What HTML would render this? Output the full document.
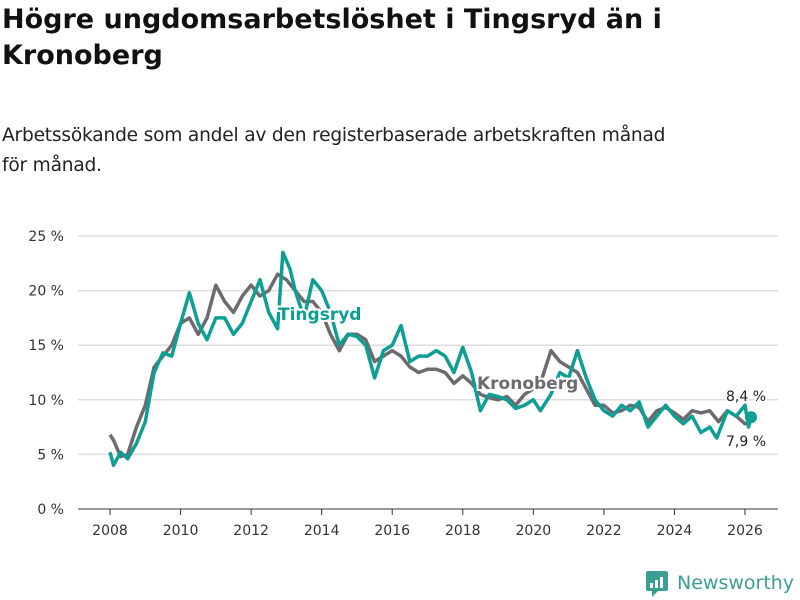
<!DOCTYPE html>
<html><head><meta charset="utf-8"><style>
body{margin:0;width:800px;height:600px;background:#fff;font-family:"DejaVu Sans","Liberation Sans",sans-serif;overflow:hidden;position:relative}
h1{position:absolute;left:2px;top:2px;margin:0;font-size:27px;line-height:36px;font-weight:bold;color:#111;width:790px}
.sub{position:absolute;left:2px;top:121px;font-size:18.6px;letter-spacing:-0.2px;line-height:30px;color:#222;width:798px}
svg{position:absolute;left:0;top:0}
</style></head><body>
<h1>Högre ungdomsarbetslöshet i Tingsryd än i Kronoberg</h1>
<div class="sub">Arbetssökande som andel av den registerbaserade arbetskraften månad<br>för månad.</div>
<svg id="c" width="800" height="600"></svg>
<script>
const yTicks=[0,5,10,15,20,25];
const xTicks=[2008,2010,2012,2014,2016,2018,2020,2022,2024,2026];
const kronDates=[2008,2008.1,2008.3,2008.5,2008.75,2009,2009.25,2009.5,2009.75,2010,2010.25,2010.5,2010.75,2011,2011.25,2011.5,2011.75,2012,2012.25,2012.5,2012.75,2013,2013.25,2013.5,2013.75,2014,2014.25,2014.5,2014.75,2015,2015.25,2015.5,2015.75,2016,2016.25,2016.5,2016.75,2017,2017.25,2017.5,2017.75,2018,2018.25,2018.5,2018.75,2019,2019.25,2019.5,2019.75,2020,2020.25,2020.5,2020.75,2021,2021.25,2021.5,2021.75,2022,2022.25,2022.5,2022.75,2023,2023.25,2023.5,2023.75,2024,2024.25,2024.5,2024.75,2025,2025.25,2025.5,2025.75,2026,2026.17];
const kronValues=[6.8,6.3,4.8,5.0,7.5,9.5,13,14,15,17,17.5,16,17.5,20.5,19,18,19.5,20.5,19.5,20,21.5,21,20,19,19,18,16,14.5,16,16,15.5,13.5,14,14.5,14,13,12.5,12.8,12.8,12.5,11.5,12.2,11.5,10.5,10.2,10,10.3,9.5,10.5,11,12,14.5,13.5,13,12.5,11,9.5,9.5,8.8,9,9.5,9.3,8,9,9.3,8.8,8.2,9,8.8,9,8,9,8.5,7.8,7.9];
const tingDates=[2008,2008.1,2008.3,2008.5,2008.75,2009,2009.25,2009.5,2009.75,2010,2010.25,2010.5,2010.75,2011,2011.25,2011.5,2011.75,2012,2012.25,2012.5,2012.75,2012.9,2013.1,2013.25,2013.5,2013.75,2014,2014.25,2014.5,2014.75,2015,2015.25,2015.5,2015.75,2016,2016.25,2016.5,2016.75,2017,2017.25,2017.5,2017.75,2018,2018.25,2018.5,2018.75,2019,2019.25,2019.5,2019.75,2020,2020.2,2020.5,2020.75,2021,2021.25,2021.5,2021.75,2022,2022.25,2022.5,2022.75,2023,2023.25,2023.5,2023.75,2024,2024.25,2024.5,2024.75,2025,2025.2,2025.5,2025.75,2026,2026.1,2026.17];
const tingValues=[5.2,4.0,5.2,4.6,6,8,12.5,14.3,14,17,19.8,17,15.5,17.5,17.5,16,17,19,21,18,16.5,23.5,22,20,17.5,21,20,18,15,16,15.8,15,12,14.5,15,16.8,13.5,14,14,14.5,14,12.5,14.8,12.5,9,10.5,10.3,10,9.2,9.5,10,9,10.5,12.5,12,14.5,12,10,9,8.5,9.5,9,9.8,7.5,8.5,9.5,8.5,7.8,8.5,7,7.5,6.5,9,8.5,9.5,7.5,8.4];
const X=t=>110+(t-2008)*(745-110)/18;
const Y=v=>509-v*10.92;
const NS="http://www.w3.org/2000/svg";
const svg=document.getElementById('c');
function mk(tag,attrs,parent){const e=document.createElementNS(NS,tag);for(const k in attrs)e.setAttribute(k,attrs[k]);(parent||svg).appendChild(e);return e;}
yTicks.forEach(v=>{
 const l=mk('line',{x1:78,x2:778,y1:Y(v),y2:Y(v),stroke:v===0?'#333':'#ddd','stroke-width':v===0?1:1.5});
 
 
 const t=mk('text',{x:64,y:Y(v)+5,'text-anchor':'end','font-size':14,fill:'#333'});
 t.textContent=v+' %';
 
 
});
xTicks.forEach(v=>{
 const l=mk('line',{x1:X(v),x2:X(v),y1:509,y2:515,stroke:'#333'});
 
 
 const t=mk('text',{x:X(v),y:535,'text-anchor':'middle','font-size':14,fill:'#333'});
 t.textContent=v;
 
 
});
function line(d,v,col,name){
 const p=mk('polyline',{points:d.map((t,i)=>X(t)+','+Y(v[i])).join(' '),fill:'none',stroke:col,'stroke-width':3.5,'stroke-linejoin':'round'});
 
 
}
line(kronDates,kronValues,'#6d6b70','kronoberg-line');
line(tingDates,tingValues,'#0d9e94','tingsryd-line');
function lab(x,y,txt,col,name,size,w,anchor){
 const t=mk('text',{x:x,y:y,'font-size':size,'font-weight':w,fill:col,stroke:'#fff','stroke-width':4,'paint-order':'stroke','text-anchor':anchor||'start'});
 t.textContent=txt;
 
 
}
lab(278,320,'Tingsryd','#0d9e94','tingsryd-label',17,'bold');
lab(477,389,'Kronoberg','#6d6b70','kronoberg-label',17,'bold');
const dot=mk('circle',{cx:X(2026.17),cy:Y(8.4),r:6,fill:'#0d9e94'});


lab(746,401,'8,4 %','#222','tingsryd-end-value',14,'normal','middle');
lab(746,446,'7,9 %','#222','kronoberg-end-value',14,'normal','middle');
const g=mk('g',{});


mk('rect',{x:646,y:571,width:22,height:20,rx:2,fill:'#3a9e95'},g);
mk('polygon',{points:'652,591 658,591 652,597',fill:'#3a9e95'},g);
mk('rect',{x:650,y:583,width:3,height:5,fill:'#fff'},g);
mk('rect',{x:655,y:580,width:3,height:8,fill:'#fff'},g);
mk('rect',{x:660,y:577,width:3,height:11,fill:'#fff'},g);
const lt=mk('text',{x:677,y:589,'font-size':19,fill:'#3a9e95'},g);
lt.textContent='Newsworthy';
</script>
</body></html>
